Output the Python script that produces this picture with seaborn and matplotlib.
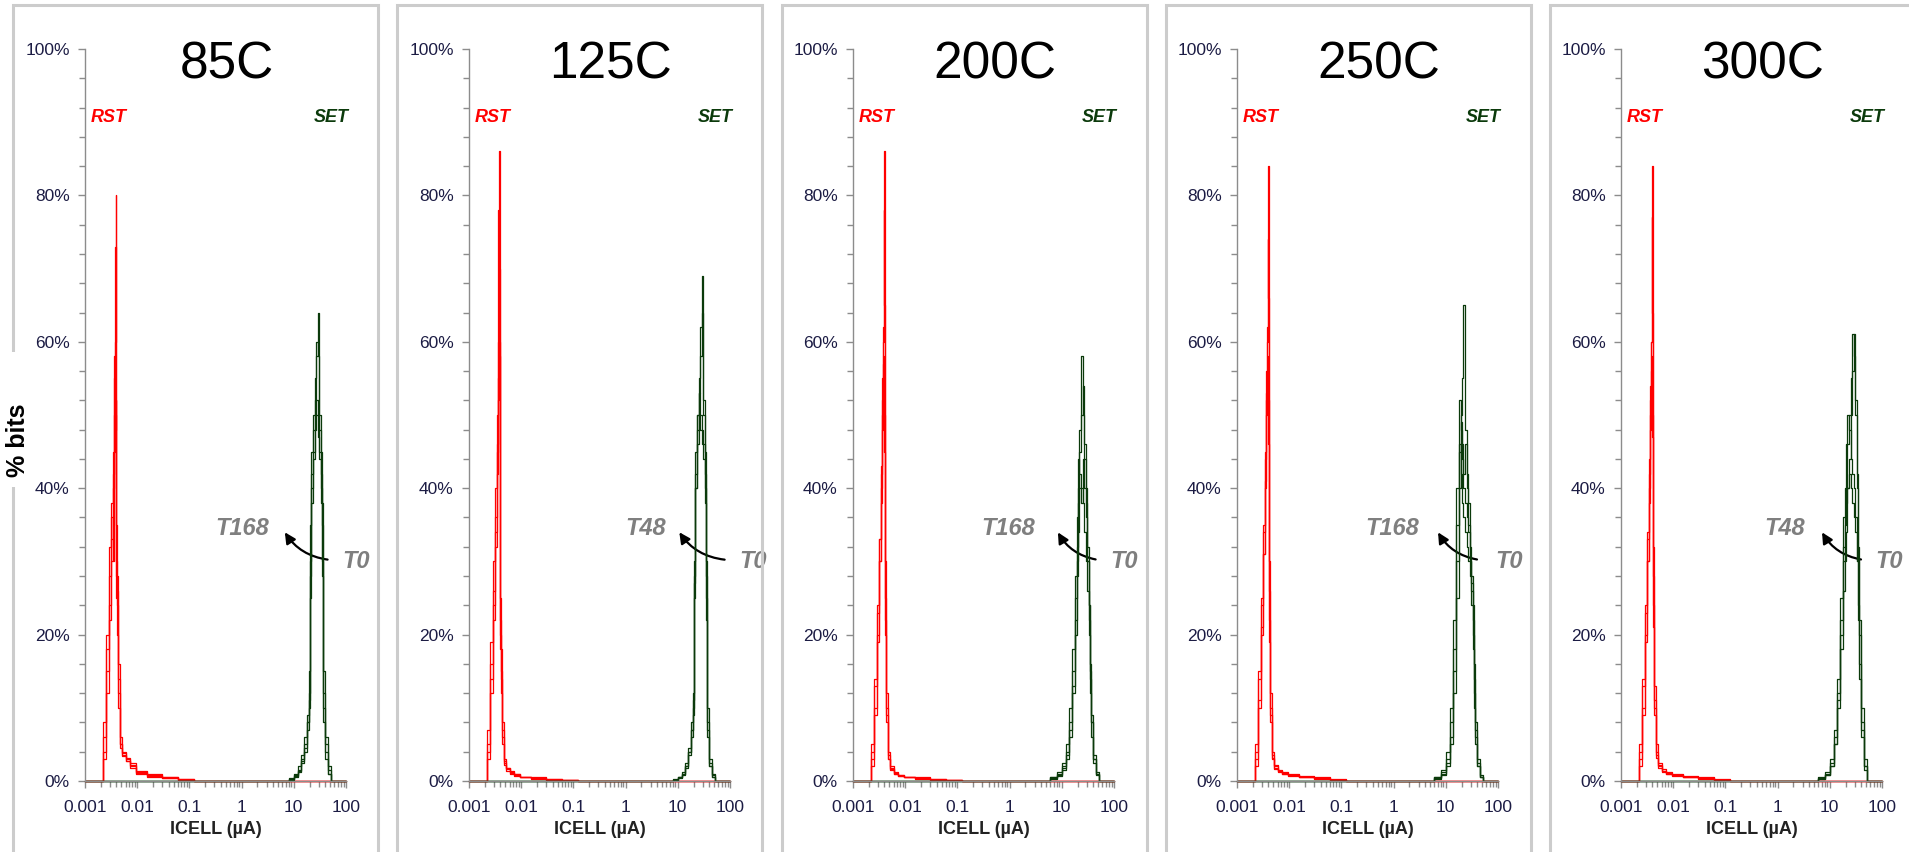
import numpy as np
import pandas as pd
import matplotlib
matplotlib.use("Agg")
import matplotlib.pyplot as plt
from matplotlib.patches import Rectangle, FancyArrowPatch
from matplotlib.ticker import FixedLocator, NullFormatter
import seaborn as sns

# ---------------- data ----------------
TEMPS = ["85C", "125C", "200C", "250C", "300C"]
BAKE_LABELS = ["T168", "T48", "T168", "T168", "T48"]
X_TICKS = [0.001, 0.01, 0.1, 1, 10, 100]
X_TICK_LABELS = ["0.001", "0.01", "0.1", "1", "10", "100"]
Y_TICKS = [0, 20, 40, 60, 80, 100]
Y_TICK_LABELS = ["0%", "20%", "40%", "60%", "80%", "100%"]

# RST (reset state) bin currents, uA
RST_X = [0.001, 0.0021, 0.0024, 0.0027, 0.003, 0.0033, 0.0035, 0.0037, 0.0038, 0.0039,
         0.0040, 0.0042, 0.0045, 0.0049, 0.0055, 0.0065, 0.008, 0.011, 0.02, 0.04, 0.08, 0.16, 100]
# SET state bin currents, uA
SET_X = [0.001, 5, 7, 9, 11, 13, 15, 17, 19, 20, 21, 22, 24, 26, 28, 30, 32, 34, 36, 38,
         42, 48, 56, 100]

# % bits per bin, one list per readout
RST_85C = [
    [0, 0, 6, 18, 28, 36, 30, 45, 60, 80, 35, 28, 14, 5, 3.6, 3.0, 2.2, 1.2, 0.8, 0.5, 0.3, 0, 0],
    [0, 0, 4, 15, 24, 30, 40, 55, 73, 70, 30, 24, 12, 4.5, 3.4, 2.8, 2.0, 1.1, 0.7, 0.4, 0.2, 0, 0],
    [0, 0, 8, 20, 32, 38, 45, 58, 50, 40, 25, 20, 16, 6, 4, 3.2, 2.4, 1.3, 0.9, 0.6, 0.3, 0, 0],
    [0, 0, 3, 12, 22, 33, 42, 50, 48, 52, 28, 26, 10, 5, 3.8, 2.8, 1.8, 1.0, 0.6, 0.4, 0.2, 0, 0],
]
RST_125C = [
    [0, 0, 5, 16, 26, 36, 45, 60, 86, 62, 25, 18, 8, 3, 1.8, 1.2, 0.9, 0.6, 0.5, 0.3, 0.1, 0, 0],
    [0, 0, 7, 19, 30, 40, 50, 78, 70, 55, 22, 15, 7, 2.5, 1.6, 1.1, 0.8, 0.5, 0.4, 0.2, 0.1, 0, 0],
    [0, 0, 3, 12, 22, 32, 42, 55, 60, 48, 20, 14, 6, 2.8, 1.8, 1.3, 1.0, 0.6, 0.4, 0.3, 0.1, 0, 0],
    [0, 0, 4, 14, 24, 34, 46, 52, 58, 44, 18, 12, 5, 2.2, 1.4, 1.0, 0.7, 0.5, 0.3, 0.2, 0.1, 0, 0],
]
RST_200C = [
    [0, 0, 3, 10, 20, 30, 38, 50, 62, 70, 86, 30, 12, 4, 2, 1.2, 0.8, 0.6, 0.5, 0.3, 0.2, 0, 0],
    [0, 0, 5, 14, 24, 33, 42, 55, 60, 78, 65, 25, 10, 3.5, 1.8, 1.0, 0.7, 0.5, 0.4, 0.3, 0.1, 0, 0],
    [0, 0, 2, 9, 19, 30, 40, 48, 55, 58, 50, 22, 9, 3, 1.5, 1.1, 0.8, 0.6, 0.4, 0.2, 0.1, 0, 0],
    [0, 0, 4, 13, 23, 33, 43, 52, 57, 54, 45, 20, 8, 3, 1.6, 1.0, 0.7, 0.5, 0.3, 0.2, 0.1, 0, 0],
]
RST_250C = [
    [0, 0, 3, 11, 21, 31, 40, 52, 62, 72, 84, 30, 12, 4, 2.2, 1.5, 1.2, 0.9, 0.7, 0.5, 0.3, 0, 0],
    [0, 0, 5, 15, 25, 34, 44, 56, 60, 74, 66, 26, 10, 3.5, 2, 1.4, 1.1, 0.8, 0.6, 0.4, 0.2, 0, 0],
    [0, 0, 2, 10, 20, 31, 41, 50, 55, 58, 52, 22, 9, 3.2, 1.8, 1.3, 1.0, 0.8, 0.6, 0.4, 0.2, 0, 0],
    [0, 0, 4, 14, 24, 35, 45, 53, 56, 55, 46, 19, 8, 3, 1.7, 1.2, 0.9, 0.7, 0.5, 0.3, 0.1, 0, 0],
]
RST_300C = [
    [0, 0, 3, 10, 20, 30, 38, 50, 60, 70, 84, 32, 13, 5, 2.5, 1.6, 1.2, 0.9, 0.7, 0.5, 0.3, 0, 0],
    [0, 0, 5, 14, 24, 33, 42, 54, 60, 77, 64, 28, 11, 4, 2.2, 1.4, 1.1, 0.8, 0.6, 0.4, 0.2, 0, 0],
    [0, 0, 2, 9, 19, 30, 40, 48, 54, 58, 50, 24, 10, 3.6, 2, 1.3, 1.0, 0.8, 0.6, 0.4, 0.2, 0, 0],
    [0, 0, 4, 13, 23, 34, 44, 52, 56, 55, 47, 21, 9, 3.2, 1.8, 1.2, 0.9, 0.7, 0.5, 0.3, 0.1, 0, 0],
]

SET_85C = [
    [0, 0, 0, 0.3, 0.8, 1.5, 3, 5, 8, 12, 30, 45, 48, 52, 58, 64, 50, 45, 38, 12, 5, 1.5, 0, 0],
    [0, 0, 0, 0.2, 0.5, 1.2, 2.5, 4, 7, 10, 25, 40, 50, 55, 60, 58, 48, 40, 30, 10, 4, 1, 0, 0],
    [0, 0, 0, 0.4, 1, 2, 3.5, 6, 9, 15, 35, 42, 45, 50, 52, 50, 45, 42, 35, 15, 6, 2, 0, 0],
    [0, 0, 0, 0.3, 0.7, 1.4, 2.8, 4.5, 8, 11, 28, 38, 44, 48, 50, 47, 44, 38, 28, 8, 3, 1, 0, 0],
]
SET_125C = [
    [0, 0, 0, 0.2, 0.5, 1, 2, 4, 7, 10, 28, 42, 50, 55, 62, 69, 52, 45, 30, 10, 3, 1, 0, 0],
    [0, 0, 0, 0.2, 0.4, 0.8, 1.8, 3.5, 6, 9, 25, 40, 48, 53, 58, 64, 50, 42, 28, 8, 2.5, 0.8, 0, 0],
    [0, 0, 0, 0.3, 0.6, 1.2, 2.4, 4.5, 8, 12, 30, 45, 50, 53, 50, 48, 46, 40, 25, 7, 2, 0.6, 0, 0],
    [0, 0, 0, 0.2, 0.5, 1, 2, 4, 7, 11, 27, 40, 46, 50, 48, 46, 44, 38, 22, 6, 2, 0.5, 0, 0],
]
SET_200C = [
    [0, 0, 0.5, 1, 2, 4, 8, 15, 25, 32, 40, 48, 58, 50, 44, 38, 30, 22, 14, 8, 3, 1, 0, 0],
    [0, 0, 0.4, 0.8, 1.8, 3.5, 7, 13, 22, 30, 38, 45, 50, 54, 46, 40, 32, 24, 16, 9, 3.5, 1.2, 0, 0],
    [0, 0, 0.6, 1.2, 2.5, 5, 10, 18, 28, 36, 44, 42, 40, 38, 34, 30, 26, 20, 12, 6, 2.5, 0.8, 0, 0],
    [0, 0, 0.3, 0.7, 1.5, 3, 6, 12, 20, 28, 34, 40, 38, 44, 40, 36, 30, 24, 15, 8, 3, 1, 0, 0],
]
SET_250C = [
    [0, 0, 0.4, 1, 2.5, 6, 15, 30, 45, 50, 55, 65, 48, 40, 35, 30, 26, 20, 12, 6, 2, 0.5, 0, 0],
    [0, 0, 0.5, 1.2, 3, 8, 18, 35, 52, 48, 44, 42, 46, 42, 38, 32, 28, 22, 14, 7, 2.5, 0.6, 0, 0],
    [0, 0, 0.3, 0.8, 2, 5, 12, 25, 40, 49, 46, 40, 38, 36, 34, 30, 27, 24, 16, 8, 3, 0.8, 0, 0],
    [0, 0, 0.6, 1.5, 4, 10, 22, 40, 46, 42, 38, 36, 34, 32, 30, 28, 24, 18, 10, 5, 2, 0.5, 0, 0],
]
SET_300C = [
    [0, 0, 0.3, 0.8, 2, 5, 10, 18, 26, 30, 34, 40, 44, 50, 56, 61, 52, 40, 30, 20, 8, 2, 0, 0],
    [0, 0, 0.4, 1, 2.5, 6, 12, 22, 32, 36, 40, 46, 50, 55, 61, 58, 50, 42, 32, 22, 10, 3, 0, 0],
    [0, 0, 0.5, 1.2, 3, 7, 14, 25, 36, 40, 46, 50, 48, 44, 42, 40, 36, 30, 24, 16, 7, 2, 0, 0],
    [0, 0, 0.3, 0.8, 2, 5, 11, 20, 30, 35, 38, 40, 42, 40, 38, 36, 34, 30, 22, 14, 6, 1.5, 0, 0],
]

RST_DATA = [RST_85C, RST_125C, RST_200C, RST_250C, RST_300C]
SET_DATA = [SET_85C, SET_125C, SET_200C, SET_250C, SET_300C]

# annotation placement (axes fraction): bake label x, arrow head x, arrow tail x, T0 x
ANN_POS = [
    (0.50, 0.76, 0.94, 0.985),
    (0.60, 0.80, 0.99, 1.035),
    (0.49, 0.78, 0.94, 0.985),
    (0.49, 0.765, 0.93, 0.99),
    (0.55, 0.765, 0.93, 0.975),
]

# ---------------- style ----------------
sns.set_theme(style="white")
plt.rcParams["font.family"] = ["Liberation Sans", "DejaVu Sans"]

RED = "#ff0000"
GREEN = "#0b3a0b"
AXIS_GRAY = "#8c8c8c"
TICK_TXT = "#1c1c44"
BORDER = "#cccccc"

W, H = 1909, 852
fig = plt.figure(figsize=(W / 100, H / 100), dpi=100)
fig.patch.set_facecolor("white")

# panel frames
for i in range(5):
    x0 = 13 + 384.25 * i
    fig.patches.append(Rectangle((x0 / W, -0.05), 365 / W, (852 - 5) / H + 0.05,
                                 transform=fig.transFigure, fill=False,
                                 edgecolor=BORDER, lw=2.2, zorder=0))

ax_w = 261 / W
ax_h = 732 / H
ax_b = (H - 781) / H

for i, temp in enumerate(TEMPS):
    ax = fig.add_axes([(85 + 384 * i) / W, ax_b, ax_w, ax_h])
    rows = []
    for k, ys in enumerate(RST_DATA[i]):
        for x, y in zip(RST_X, ys):
            rows.append(("RST", f"R{k}", x, y))
    for k, ys in enumerate(SET_DATA[i]):
        for x, y in zip(SET_X, ys):
            rows.append(("SET", f"S{k}", x, y))
    df = pd.DataFrame(rows, columns=["state", "curve", "icell", "pct"])
    sns.lineplot(data=df, x="icell", y="pct", hue="state", hue_order=["RST", "SET"],
                 units="curve", estimator=None, palette={"RST": RED, "SET": GREEN},
                 legend=False, lw=0.9, ax=ax, clip_on=False, drawstyle="steps-mid")
    ax.set_xscale("log")
    ax.set_xlim(0.001, 100)
    ax.set_ylim(0, 100)
    ax.set_facecolor("none")
    for s in ["top", "right"]:
        ax.spines[s].set_visible(False)
    for s in ["left", "bottom"]:
        ax.spines[s].set_color(AXIS_GRAY)
        ax.spines[s].set_linewidth(1.0)
    ax.xaxis.set_major_locator(FixedLocator(X_TICKS))
    ax.set_xticklabels(X_TICK_LABELS)
    minors = [m * d for d in X_TICKS[:-1] for m in range(2, 10)]
    ax.xaxis.set_minor_locator(FixedLocator(minors))
    ax.xaxis.set_minor_formatter(NullFormatter())
    ax.yaxis.set_major_locator(FixedLocator(Y_TICKS))
    ax.set_yticklabels(Y_TICK_LABELS)
    ax.yaxis.set_minor_locator(FixedLocator([v for v in range(0, 101, 4) if v % 20]))
    ax.tick_params(axis="both", which="major", direction="out", length=5, width=1,
                   color=AXIS_GRAY, labelsize=12.5, labelcolor=TICK_TXT, pad=6,
                   bottom=True, left=True)
    ax.tick_params(axis="x", which="major", pad=9)
    ax.tick_params(axis="both", which="minor", direction="out", length=4, width=1,
                   color=AXIS_GRAY, bottom=True, left=True)
    ax.set_xlabel("ICELL (µA)", fontsize=13, fontweight="bold", color="#222222", labelpad=4)
    ax.set_ylabel("")

    ax.text(0.544, 0.96, temp, transform=ax.transAxes, ha="center", va="baseline",
            fontsize=37, color="black")
    ax.text(0.02, 0.907, "RST", transform=ax.transAxes, ha="left", va="center",
            fontsize=13, fontweight="bold", style="italic", color=RED)
    ax.text(1.01, 0.907, "SET", transform=ax.transAxes, ha="right", va="center",
            fontsize=13, fontweight="bold", style="italic", color=GREEN)

    bx, hx, tx, t0x = ANN_POS[i]
    ax.text(bx, 0.345, BAKE_LABELS[i], transform=ax.transAxes, ha="left", va="center",
            fontsize=17, fontweight="bold", style="italic", color="#7f7f7f")
    ax.text(t0x, 0.30, "T0", transform=ax.transAxes, ha="left", va="center",
            fontsize=17, fontweight="bold", style="italic", color="#7f7f7f", clip_on=False)
    arr = FancyArrowPatch((tx, 0.302), (hx, 0.343), transform=ax.transAxes,
                          connectionstyle="arc3,rad=-0.25", arrowstyle="-|>",
                          mutation_scale=16, lw=1.6, color="black", clip_on=False)
    ax.add_patch(arr)

# y label with white backing that breaks the first frame
fig.patches.append(Rectangle((0, (H - 487) / H), 32 / W, 135 / H, transform=fig.transFigure,
                             facecolor="white", edgecolor="none", zorder=1))
fig.text(18 / W, (H - 440) / H, "% bits", rotation=90, ha="center", va="center",
         fontsize=18, fontweight="bold", color="black", zorder=2)

fig.savefig("out.png", dpi=100, facecolor="white")
